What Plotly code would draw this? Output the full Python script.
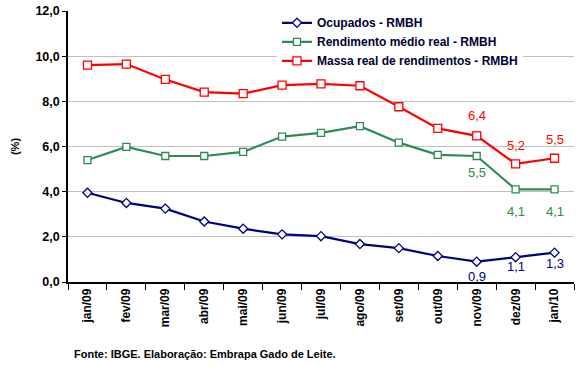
import plotly.graph_objects as go

months = ["jan/09", "fev/09", "mar/09", "abr/09", "mai/09", "jun/09", "jul/09",
          "ago/09", "set/09", "out/09", "nov/09", "dez/09", "jan/10"]
ocupados = [3.95, 3.5, 3.25, 2.68, 2.36, 2.11, 2.03, 1.68, 1.5, 1.15, 0.9, 1.1, 1.3]
rendimento = [5.4, 5.98, 5.58, 5.58, 5.76, 6.44, 6.6, 6.9, 6.17, 5.63, 5.58, 4.1, 4.1]
massa = [9.6, 9.65, 8.97, 8.41, 8.34, 8.72, 8.77, 8.69, 7.76, 6.8, 6.47, 5.23, 5.48]

names = ["Ocupados - RMBH", "Rendimento médio real - RMBH", "Massa real de rendimentos - RMBH"]
colors = ["#000080", "#2E8B57", "#FF0000"]

# data labels
label_idx = [10, 11, 12]
label_ocup = ["0,9", "1,1", "1,3"]
label_rend = ["5,5", "4,1", "4,1"]
label_massa = ["6,4", "5,2", "5,5"]

fig = go.Figure()
series = [ocupados, rendimento, massa]
symbols = ["diamond", "square", "square"]
msizes = [7, 7, 8]
for s, n, c, sym, ms in zip(series, names, colors, symbols, msizes):
    fig.add_trace(go.Scatter(
        x=months, y=s, name=n, mode="lines+markers",
        line=dict(color=c, width=2.2),
        marker=dict(symbol=sym, size=ms, color="white", line=dict(color=c, width=1.3)),
    ))

shifts = [(-15, -9, -11), (-17, -22, -22), (20, 18, 19)]
for si, (vals, labs) in enumerate([(ocupados, label_ocup), (rendimento, label_rend), (massa, label_massa)]):
    for k, (i, t) in enumerate(zip(label_idx, labs)):
        fig.add_annotation(x=months[i], y=vals[i], text=t, showarrow=False,
                           yshift=shifts[si][k], xref="x", yref="y",
                           font=dict(family="Liberation Sans, Arial", size=13, color=colors[si]))

fig.add_annotation(x=0.0, y=0.0, xref="paper", yref="paper", xanchor="left", yanchor="bottom",
                   xshift=4, yshift=-84 + 4, showarrow=False,
                   text="Fonte: IBGE. Elaboração: Embrapa Gado de Leite.",
                   font=dict(family="Liberation Sans, Arial", size=11, color="#000000", weight="bold"))

fig.update_layout(
    width=580, height=366,
    margin=dict(l=68, r=6, t=11, b=84),
    paper_bgcolor="white", plot_bgcolor="white",
    separators=",.",
    font=dict(family="Liberation Sans, Arial", color="#000000"),
    showlegend=True,
    legend=dict(x=0.413, y=1.01, xanchor="left", yanchor="top",
                bgcolor="white", borderwidth=0,
                font=dict(size=12, color="#000033", weight="bold"),
                tracegroupgap=0, itemwidth=30),
    xaxis=dict(type="category", tickson="boundaries", ticks="outside", ticklen=6,
               tickcolor="black", showline=True, linecolor="black", linewidth=1.5,
               showgrid=False, tickangle=-90, automargin=False,
               tickfont=dict(size=12, weight="bold"), range=[-0.5, 12.5]),
    yaxis=dict(range=[0, 12], dtick=2, tickformat=".1f", ticks="outside", ticklen=4,
               tickcolor="black", showline=True, linecolor="black", linewidth=1.5,
               showgrid=True, gridcolor="#C0C0C0", gridwidth=1, zeroline=False,
               automargin=False,
               tickfont=dict(size=12.5, weight="bold"),
               title=dict(text="(%)", font=dict(size=11, weight="bold"), standoff=14)),
)

fig.write_html("out.html", config={"displayModeBar": False},
               post_script="document.body.style.margin='0';document.body.style.padding='0';")
